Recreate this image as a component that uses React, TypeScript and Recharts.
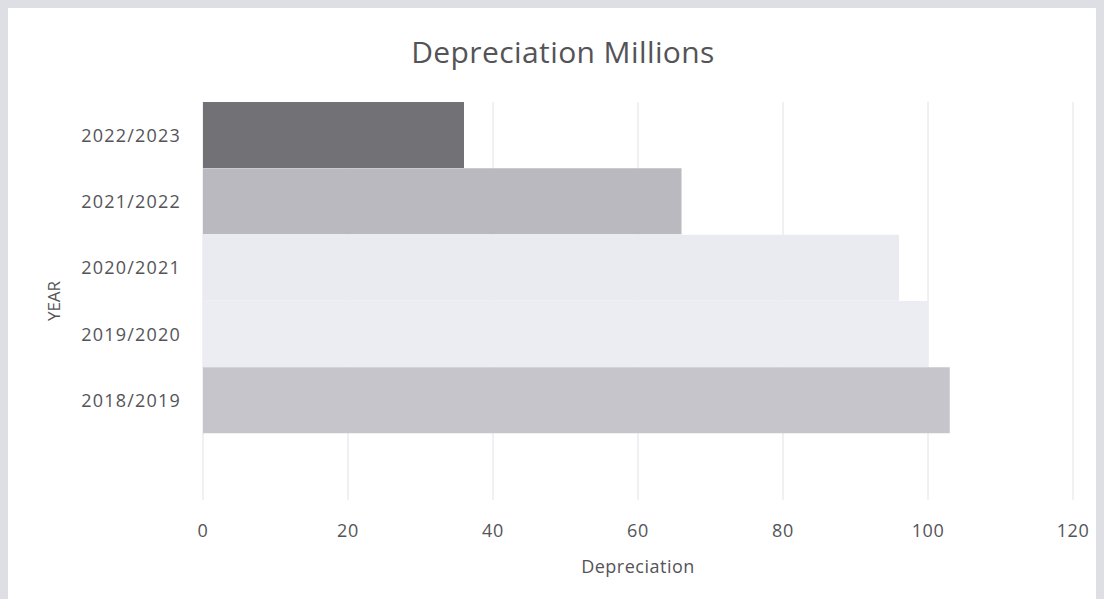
import React from 'react'
import { Bar, BarChart, CartesianGrid, Cell, XAxis, YAxis } from 'recharts'

const years = ['2022/2023', '2021/2022', '2020/2021', '2019/2020', '2018/2019', '']
const depreciation = [36, 66, 96, 100, 103, null]
const barColors = ['#717176', '#b9b9bf', '#eaeaf1', '#ececf3', '#c5c5cb', '#ffffff']
const xTicks = [0, 20, 40, 60, 80, 100, 120]

const data = years.map((year, i) => ({ year, value: depreciation[i] }))

const font = "'Open Sans', 'Noto Sans', sans-serif"
const textColor = '#545458'

const App = () => {
  return (
    <div style={{ position: 'relative', width: 1096, height: 591, background: '#ffffff', fontFamily: font }}>
      <style>{`body{background:#dedee5}`}</style>
      {/* chart title */}
      <div
        style={{
          position: 'absolute',
          top: 23,
          left: 7,
          width: '100%',
          textAlign: 'center',
          fontSize: 30,
          letterSpacing: 0.4,
          color: textColor,
        }}
      >
        Depreciation Millions
      </div>
      <BarChart
        width={1096}
        height={591}
        data={data}
        layout="vertical"
        margin={{ top: 94, right: 31, bottom: 0, left: 0 }}
        barCategoryGap={0}
      >
        <CartesianGrid horizontal={false} stroke="#e2e2e8" />
        <XAxis
          type="number"
          domain={[0, 120]}
          ticks={xTicks}
          axisLine={false}
          tickLine={false}
          tickSize={0}
          tickMargin={24}
          height={99}
          tick={{ fill: textColor, fontSize: 18, fontFamily: font, letterSpacing: 0.6 }}
          label={{ value: 'Depreciation', position: 'insideBottom', offset: 26, fill: textColor, fontSize: 18, fontFamily: font, letterSpacing: 0.5 }}
        />
        <YAxis
          type="category"
          dataKey="year"
          width={195}
          axisLine={false}
          tickLine={false}
          tickSize={0}
          tickMargin={22}
          tick={{ fill: textColor, fontSize: 18, fontFamily: font, letterSpacing: 1.2 }}
          label={{ value: 'YEAR', angle: -90, position: 'insideLeft', offset: 46, fill: textColor, fontSize: 17, fontFamily: font, style: { textAnchor: 'middle' } }}
        />
        <Bar dataKey="value" isAnimationActive={false}>
          {data.map((d, i) => (
            <Cell key={d.year + i} fill={barColors[i]} />
          ))}
        </Bar>
      </BarChart>
    </div>
  )
}

export default App
